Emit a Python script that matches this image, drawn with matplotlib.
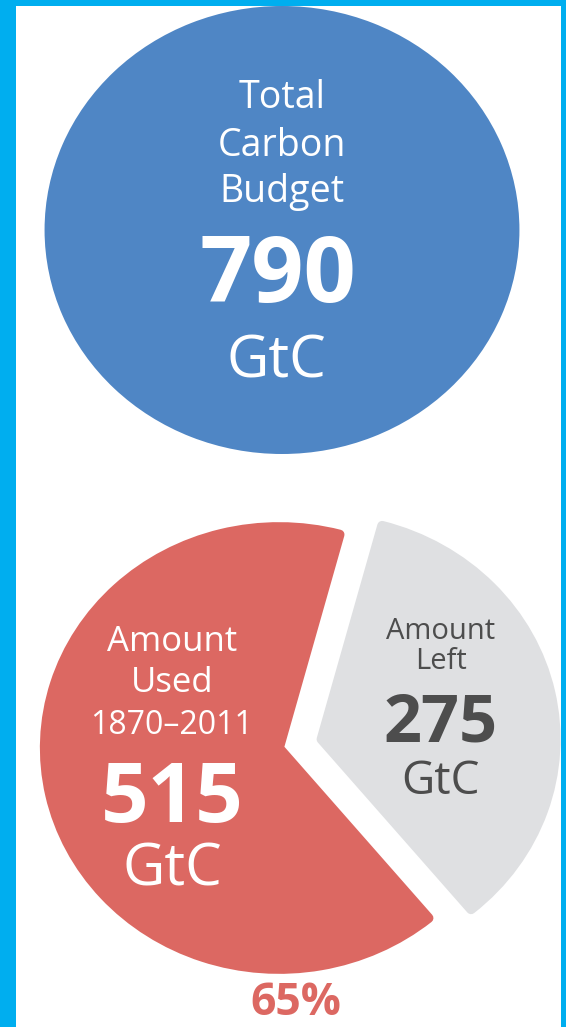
import matplotlib.pyplot as plt

# carbon budget numbers (GtC)
total_budget = [790]
part_labels = ["Amount Used 1870–2011", "Amount Left"]
part_values = [515, 275]
used_share = "65%"

blue = "#4f86c5"
red = "#dc6862"
grey = "#dfe0e2"
frame = "#00aeef"
dark = "#4d4d4d"

W, H = 566, 1027
S = 1.06  # the artwork is a bit wider than tall


def X(px):
    return px / S


def Y(py):
    return H - py


plt.rcParams['font.family'] = ['Open Sans', 'DejaVu Sans']

fig = plt.figure(figsize=(W / 100, H / 100), dpi=100)
fig.patch.set_facecolor(frame)
ax = fig.add_axes([16 / W, 0, (561 - 16) / W, (H - 6) / H])

# total budget disc
ax.pie(total_budget, colors=[blue], radius=224, center=(X(282), Y(230)),
       frame=False)

# used / left split, left part pulled out (explode is in data units here)
ax.pie(part_values, colors=[red, grey], startangle=75, counterclock=True,
       radius=221, center=(X(279), Y(748)), explode=[0, 41],
       wedgeprops=dict(linewidth=7, joinstyle='round'), frame=False)
for w, c in zip(ax.patches[1:], [red, grey]):
    w.set_edgecolor(c)

ax.set_aspect('auto')
ax.set_xlim(X(16), X(561))
ax.set_ylim(0, H - 6)
ax.set_frame_on(True)
ax.set_facecolor('white')
for sp in ax.spines.values():
    sp.set_visible(False)
ax.set_xticks([])
ax.set_yticks([])


def label(px, py, s, size, color, bold=False):
    ax.text(X(px), Y(py), s, ha='center', va='baseline', fontsize=size,
            color=color, fontweight='bold' if bold else 'normal')


# blue disc text
label(282, 108, "Total", 27, 'white')
label(282, 156, "Carbon", 27, 'white')
label(282, 202, "Budget", 27, 'white')
label(278, 302, str(total_budget[0]), 66, 'white', bold=True)
label(276, 377, "GtC", 42, 'white')

# red slice text
label(172, 651, "Amount", 25, 'white')
label(172, 692, "Used", 25, 'white')
label(172, 734, "1870–2011", 23, 'white')
label(172, 822, str(part_values[0]), 60, 'white', bold=True)
label(172, 886, "GtC", 42, 'white')

# grey slice text
label(441, 639, "Amount", 21, dark)
label(441, 669, "Left", 21, dark)
label(441, 741, str(part_values[1]), 48, dark, bold=True)
label(441, 794, "GtC", 33, dark)

label(296, 1015, used_share, 32, red, bold=True)

fig.savefig("out.png", dpi=100, facecolor=frame)
